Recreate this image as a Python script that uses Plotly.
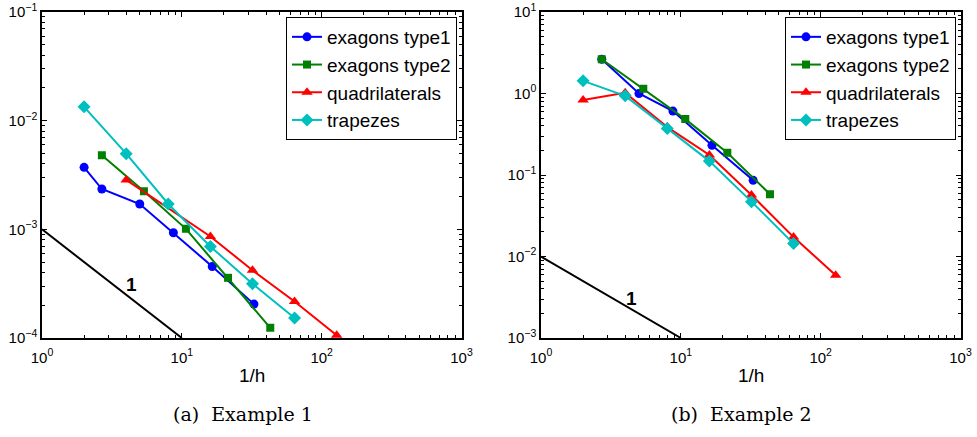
import math
import plotly.graph_objects as go

W, H = 977, 437

# ---------------- data ----------------
series_names = ["exagons type1", "exagons type2", "quadrilaterals", "trapezes"]

# Example 1
ex1_hex1_x = [2.0, 2.68, 5.0, 8.7, 16.5, 32.8]
ex1_hex1_y = [3.72e-3, 2.35e-3, 1.71e-3, 9.3e-4, 4.55e-4, 2.05e-4]
ex1_hex2_x = [2.68, 5.36, 10.7, 21.4, 42.9]
ex1_hex2_y = [4.8e-3, 2.24e-3, 1.01e-3, 3.58e-4, 1.24e-4]
ex1_quad_x = [4, 16, 32, 64, 128]
ex1_quad_y = [2.85e-3, 8.6e-4, 4.2e-4, 2.17e-4, 1.06e-4]
ex1_trap_x = [2, 4, 8, 16, 32, 64]
ex1_trap_y = [1.34e-2, 4.97e-3, 1.71e-3, 6.95e-4, 3.16e-4, 1.53e-4]
ex1_slope_x = [1, 10]
ex1_slope_y = [1e-3, 1e-4]

# Example 2
ex2_hex1_x = [2.72, 5.02, 8.78, 16.7, 32.9]
ex2_hex1_y = [2.63, 1.0, 0.608, 0.231, 0.086]
ex2_hex2_x = [2.72, 5.39, 10.76, 21.5, 43.4]
ex2_hex2_y = [2.63, 1.14, 0.485, 0.188, 0.058]
ex2_quad_x = [2, 4, 8, 16, 32, 64, 128]
ex2_quad_y = [0.83, 1.02, 0.387, 0.176, 0.0569, 0.0173, 0.0059]
ex2_trap_x = [2, 4, 8, 16, 32, 64]
ex2_trap_y = [1.43, 0.936, 0.373, 0.148, 0.0471, 0.0144]
ex2_slope_x = [1, 10]
ex2_slope_y = [1e-2, 1e-3]

x_exponents = [0, 1, 2, 3]
ex1_y_exponents = [-4, -3, -2, -1]
ex2_y_exponents = [-3, -2, -1, 0, 1]
captions = ["(a)  Example 1", "(b)  Example 2"]
slope_label = "1"
x_label = "1/h"

# ---------------- styles ----------------
colors = ["#0000FF", "#008000", "#FF0000", "#00BFBF"]
symbols = ["circle", "square", "triangle-up", "diamond"]
msizes = [9, 8, 10, 10]
SANS = "Liberation Sans"

fig = go.Figure()

def px2x(p):
    return p / W

def px2y(p):
    return 1 - p / H

dom_x = [[px2x(42), px2x(461.5)], [px2x(541), px2x(960.5)]]
dom_y = [px2y(338), px2y(12)]

examples = [
    ([(ex1_hex1_x, ex1_hex1_y), (ex1_hex2_x, ex1_hex2_y), (ex1_quad_x, ex1_quad_y), (ex1_trap_x, ex1_trap_y)],
     (ex1_slope_x, ex1_slope_y), ex1_y_exponents, (4.37, 3.1e-4)),
    ([(ex2_hex1_x, ex2_hex1_y), (ex2_hex2_x, ex2_hex2_y), (ex2_quad_x, ex2_quad_y), (ex2_trap_x, ex2_trap_y)],
     (ex2_slope_x, ex2_slope_y), ex2_y_exponents, (4.45, 3.05e-3)),
]

def sup(e):
    s = str(e).replace("-", "\u2212")
    return f"10<sup>{s}</sup>"

for k, (sers, slope, yexp, lblpos) in enumerate(examples):
    xa = "x" if k == 0 else "x2"
    ya = "y" if k == 0 else "y2"
    leg = "legend" if k == 0 else "legend2"
    for i, (xs, ys) in enumerate(sers):
        fig.add_trace(go.Scatter(
            x=xs, y=ys, mode="lines+markers", name=series_names[i],
            line=dict(color=colors[i], width=2),
            marker=dict(symbol=symbols[i], size=msizes[i], color=colors[i], line=dict(width=0)),
            xaxis=xa, yaxis=ya, legend=leg,
        ))
    fig.add_trace(go.Scatter(
        x=slope[0], y=slope[1], mode="lines", line=dict(color="black", width=2),
        showlegend=False, xaxis=xa, yaxis=ya, cliponaxis=True,
    ))
    fig.add_annotation(x=math.log10(lblpos[0]), y=math.log10(lblpos[1]), xref=xa, yref=ya,
                       text=f"<b>{slope_label}</b>", showarrow=False,
                       font=dict(family=SANS, size=19, color="black"))

    minor_x = [m * 10 ** e for e in x_exponents[:-1] for m in range(2, 10)]
    minor_y = [m * 10 ** e for e in yexp[:-1] for m in range(2, 10)]
    axis_common = dict(
        type="log", showgrid=False, zeroline=False, showline=True, linecolor="black", linewidth=1.5,
        mirror="ticks", ticks="inside", ticklen=5, tickwidth=1, tickcolor="black",
        tickfont=dict(family=SANS, size=15, color="black"),
        automargin=False,
    )
    xkey = "xaxis" if k == 0 else "xaxis2"
    ykey = "yaxis" if k == 0 else "yaxis2"
    fig.update_layout(**{
        xkey: dict(axis_common, domain=dom_x[k], anchor=ya, range=[x_exponents[0], x_exponents[-1]],
                   tickmode="array", tickvals=[10 ** e for e in x_exponents],
                   ticktext=[sup(e) for e in x_exponents], ticklabelstandoff=5,
                   minor=dict(ticks="inside", ticklen=3, tickcolor="black", tickmode="array", tickvals=minor_x)),
        ykey: dict(axis_common, domain=dom_y, anchor=xa, range=[yexp[0], yexp[-1]],
                   tickmode="array", tickvals=[10 ** e for e in yexp],
                   ticktext=[sup(e) for e in yexp],
                   minor=dict(ticks="inside", ticklen=3, tickcolor="black", tickmode="array", tickvals=minor_y)),
    })

    cx = (dom_x[k][0] + dom_x[k][1]) / 2
    fig.add_annotation(x=cx, y=px2y(375), xref="paper", yref="paper", text=x_label, showarrow=False,
                       font=dict(family=SANS, size=19, color="black"),
                       xanchor="center", yanchor="middle")
    fig.add_annotation(x=cx - 9 / W, y=px2y(414), xref="paper", yref="paper", text=captions[k],
                       showarrow=False, font=dict(family="DejaVu Serif", size=19, color="black"),
                       xanchor="center", yanchor="middle")

legend_common = dict(
    bgcolor="white", bordercolor="black", borderwidth=1,
    font=dict(family=SANS, size=19, color="black"),
    xanchor="right", yanchor="top", tracegroupgap=0, itemwidth=30,
)
fig.update_layout(
    width=W, height=H, margin=dict(l=0, r=0, t=0, b=0),
    paper_bgcolor="white", plot_bgcolor="white",
    legend=dict(legend_common, x=px2x(457), y=px2y(17)),
    legend2=dict(legend_common, x=px2x(956), y=px2y(17)),
)

fig.write_html("out.html", config={"displayModeBar": False},
               post_script="document.body.style.margin='0';document.body.style.overflow='hidden';")
